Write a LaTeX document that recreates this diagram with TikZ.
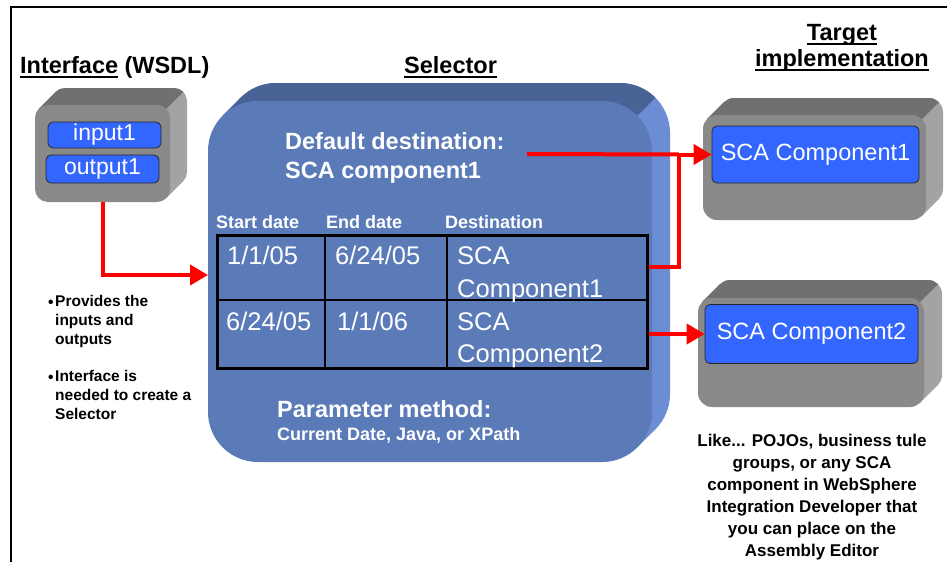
\documentclass[tikz,border=0pt]{standalone}
\usepackage{fontspec}
\setmainfont{Liberation Sans}
\usetikzlibrary{arrows.meta}
\definecolor{gfront}{RGB}{137,137,137}
\definecolor{gtop}{RGB}{112,112,112}
\definecolor{gside}{RGB}{163,163,163}
\definecolor{bfront}{RGB}{90,122,184}
\definecolor{btop}{RGB}{74,99,150}
\definecolor{bside}{RGB}{108,140,212}
\definecolor{compblue}{RGB}{51,102,255}
\definecolor{redline}{RGB}{255,0,0}
\newcommand{\bevelbox}[9]{%
  \pgfmathsetmacro{\bbk}{0.2929*#6}%
  \fill[#8,rounded corners=#6] ({#1+#5},#2) rectangle (#3,{#4-#5});
  \fill[#8] ({#1+\bbk},{#2+#5+\bbk}) -- ({#1+\bbk+#5},{#2+\bbk}) -- ({#3-\bbk},{#4-#5-\bbk}) -- ({#3-#5-\bbk},{#4-\bbk}) -- cycle;
  \begin{scope}
    \clip ({#3-#5-\bbk-600},{#2+#5+\bbk+600}) -- ({#3-#5-\bbk+600},{#2+#5+\bbk-600}) -- ({#3-#5-\bbk-1400},{#2+#5+\bbk-600}) -- cycle;
    \fill[#7,rounded corners=#6] ({#1+#5},#2) rectangle (#3,{#4-#5});
    \fill[#7] ({#1+\bbk},{#2+#5+\bbk}) -- ({#1+\bbk+#5},{#2+\bbk}) -- ({#3-\bbk},{#4-#5-\bbk}) -- ({#3-#5-\bbk},{#4-\bbk}) -- cycle;
  \end{scope}
  \fill[#9,rounded corners=#6] (#1,{#2+#5}) rectangle ({#3-#5},#4);
}
\begin{document}
\begin{tikzpicture}[x=1pt,y=-1pt,
  title/.style={font=\bfseries\fontsize{23.5}{28}\selectfont, inner sep=0, anchor=base west},
  wbig/.style={font=\bfseries\fontsize{23.5}{28}\selectfont, text=white, inner sep=0, anchor=base west},
  whead/.style={font=\bfseries\fontsize{18}{22}\selectfont, text=white, inner sep=0, anchor=base west},
  wcell/.style={font=\fontsize{25.5}{30}\selectfont, text=white, inner sep=0, anchor=base west},
  compbox/.style={draw=black!85, line width=0.8, fill=compblue, rounded corners=5, text=white, inner sep=0, font=\fontsize{23}{27}\selectfont},
  frontnode/.style={inner sep=0, anchor=north west},
  redarrow/.style={draw=redline, line width=4, -{Triangle[length=18, width=20]}},
  redplain/.style={draw=redline, line width=4},
  uline/.style={line width=2.2},
  note/.style={font=\bfseries\fontsize{15.5}{19}\selectfont, inner sep=0}
]
\useasboundingbox (0,0) rectangle (947,562);
\fill[white] (0,0) rectangle (947,562);
\draw[line width=1.2] (11,562) -- (11,7) -- (947,7);

% titles
\node[title] (tif) at (20,73) {Interface};
\node[title, anchor=base west] (twsdl) at ([xshift=6]tif.base east) {(WSDL)};
\draw[uline] ([yshift=-4]tif.base west) -- ([yshift=-4]tif.base east);
\node[title] (tsel) at (404,73) {Selector};
\draw[uline] ([yshift=-4]tsel.base west) -- ([yshift=-4]tsel.base east);
\node[title, anchor=base] (ttar) at (842,40) {Target};
\draw[uline] ([yshift=-4]ttar.base west) -- ([yshift=-4]ttar.base east);
\node[title, anchor=base] (timp) at (842,66) {implementation};
\draw[uline] ([yshift=-4]timp.base west) -- ([yshift=-4]timp.base east);

% interface box
\bevelbox{35}{88}{187}{202}{17}{13}{gtop}{gside}{gfront}
\node[frontnode, minimum width=135, minimum height=97] (iface) at (35,105) {};
\node[compbox, minimum width=113, minimum height=26] (in1) at (104.5,135) {input1};
\node[compbox, minimum width=113, minimum height=28] (out1) at (102.5,169) {output1};

% selector box
\bevelbox{208}{83}{670}{462}{18}{50}{btop}{bside}{bfront}
\node[frontnode, minimum width=444, minimum height=362] (sel) at (208,100) {};
\node[wbig] (dd1) at (285,149) {Default destination:};
\node[wbig] (dd2) at (285,178) {SCA component1};
\node[whead] (h1) at (216,228) {Start date};
\node[whead] (h2) at (326,228) {End date};
\node[whead] (h3) at (445,228) {Destination};
\node[draw, line width=2.6, frontnode, minimum width=430, minimum height=133] (tbl) at (216,234) {};
\draw[line width=2.2] (216,300) -- (646,300);
\draw[line width=2.2] (325,234) -- (325,367);
\draw[line width=2.2] (447,234) -- (447,367);
\node[wcell] (c11) at (227,264) {1/1/05};
\node[wcell] (c12) at (335,264) {6/24/05};
\node[wcell] (c13) at (457,264) {SCA};
\node[wcell] (c13b) at (457,297) {Component1};
\node[wcell] (c21) at (226,330) {6/24/05};
\node[wcell] (c22) at (337,330) {1/1/06};
\node[wcell] (c23) at (457,330) {SCA};
\node[wcell] (c23b) at (457,362) {Component2};
\node[wbig] (pm1) at (277,417) {Parameter method:};
\node[whead] (pm2) at (277,440) {Current Date, Java, or XPath};

% target boxes
\bevelbox{703}{98}{943}{220}{17}{14}{gtop}{gside}{gfront}
\node[frontnode, minimum width=222, minimum height=105] (t1) at (703,115) {};
\node[compbox, minimum width=207, minimum height=57, font=\fontsize{23.5}{28}\selectfont] (comp1) at (815.5,154.5) {SCA Component1};
\bevelbox{698}{280}{942}{407}{18}{14}{gtop}{gside}{gfront}
\node[frontnode, minimum width=226, minimum height=109] (t2) at (698,298) {};
\node[compbox, minimum width=213, minimum height=59, font=\fontsize{23.5}{28}\selectfont] (comp2) at (811.5,334) {SCA Component2};

% notes
\node[note, anchor=base west] (bul1) at (48,307) {•};
\node[note, anchor=north west, align=left] (n1) at (55,295.5) {Provides the\\inputs and\\outputs};
\node[note, anchor=base west] (bul2) at (48,382) {•};
\node[note, anchor=north west, align=left] (n2) at (55,370.5) {Interface is\\needed to create a\\Selector};
\node[font=\bfseries\fontsize{17}{22}\selectfont, inner sep=0, anchor=north, align=center] (cap) at (812,433.5)
  {Like... POJOs, business tule\\groups, or any SCA\\component in WebSphere\\Integration Developer that\\you can place on the\\Assembly Editor};

% connectors
\coordinate (bend1) at (iface.south |- 0,275);
\draw[redarrow] (iface.south) -- (bend1) -- (bend1 -| sel.west);
\coordinate (ddend) at (527,154);
\coordinate (row1) at (tbl.east |- 0,267);
\coordinate (jn) at (679,267);
\coordinate (jtop) at (jn |- comp1.west);
\draw[redplain] (ddend) -- (jtop);
\draw[redarrow] (row1) -- (jn) -- (jtop) -- (comp1.west);
\coordinate (row2) at (tbl.east |- comp2.west);
\draw[redarrow] (row2) -- (comp2.west);
\end{tikzpicture}
\end{document}
